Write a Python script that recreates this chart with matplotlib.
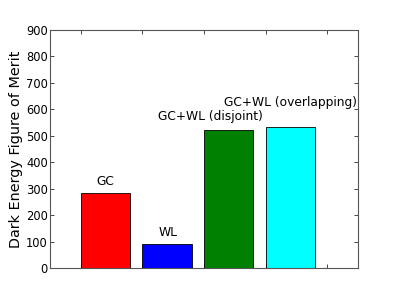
import matplotlib
matplotlib.use('Agg')
import matplotlib.pyplot as plt

names = ['GC', 'WL', 'GC+WL (disjoint)', 'GC+WL (overlapping)']
fom = [283, 90, 521, 535]
colors = ['#ff0000', '#0000ff', '#008000', '#00ffff']
# label anchor points (x, y) in data units
label_x = [0.39, 1.41, 2.11, 3.41]
label_y = [303, 110, 550, 603]

plt.rcParams['font.size'] = 8.3
fig = plt.figure(figsize=(3.99, 2.99), dpi=100)
ax = fig.add_axes([50/399, 1 - 268/299, 308/399, 238/299])

pos = list(range(len(fom)))
ax.bar(pos, fom, width=0.8, align='edge', color=colors, edgecolor='black', linewidth=0.6)
for i in pos:
    ax.text(label_x[i], label_y[i], names[i], ha='center', va='bottom', fontsize=8.8)

ax.set_xlim(-0.5, 4.5)
ax.set_ylim(0, 900)
ax.set_xticks([0, 1, 2, 3, 4])
ax.set_xticklabels([''] * 5)
ax.set_yticks(range(0, 901, 100))
ax.tick_params(direction='in', top=True, right=True, length=3, width=0.5, pad=1.5)
for s in ax.spines.values():
    s.set_linewidth(0.8)
    s.set_color('#555555')
ax.set_ylabel('Dark Energy Figure of Merit', fontsize=10.4, labelpad=2)

fig.savefig('out.png', dpi=100)
